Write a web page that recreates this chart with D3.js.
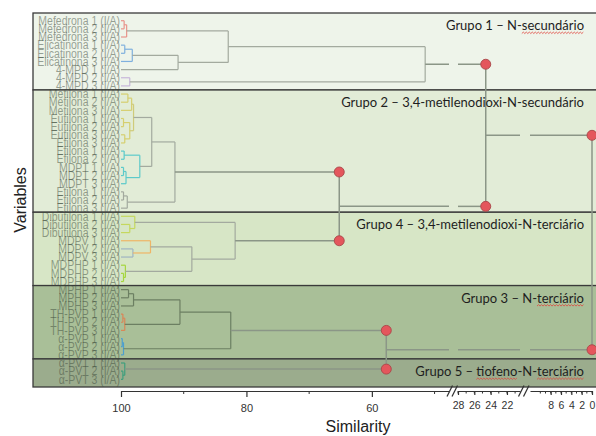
<!DOCTYPE html>
<html lang="pt">
<head>
<meta charset="UTF-8">
<title>Dendrograma</title>
<script src="https://cdnjs.cloudflare.com/ajax/libs/d3/7.8.5/d3.min.js"></script>
<style>
  body { margin: 0; background: #fff; }
  svg { display: block; }
</style>
</head>
<body>
<svg width="596" height="436"></svg>
<script>
// leaves, top to bottom
const leaves = [
  "Mefedrona 1 (I/A)", "Mefedrona 2 (I/A)", "Mefedrona 3 (I/A)",
  "Elicatinona 1 (I/A)", "Elicatinona 2 (I/A)", "Elicatinona 3 (I/A)",
  "4-MPD 1 (I/A)", "4-MPD 2 (I/A)", "4-MPD 3 (I/A)",
  "Metilona 1 (I/A)", "Metilona 2 (I/A)", "Metilona 3 (I/A)",
  "Eutilona 1 (I/A)", "Eutilona 2 (I/A)", "Eutilona 3 (I/A)",
  "Efilona 3 (I/A)", "Efilona 1 (I/A)", "Efilona 2 (I/A)",
  "MDPT 1 (I/A)", "MDPT 2 (I/A)", "MDPT 3 (I/A)",
  "Etilona 1 (I/A)", "Etilona 2 (I/A)", "Etilona 3 (I/A)",
  "Dibutilona 1 (I/A)", "Dibutilona 2 (I/A)", "Dibutilona 3 (I/A)",
  "MDPV 1 (I/A)", "MDPV 2 (I/A)", "MDPV 3 (I/A)",
  "MDPHP 1 (I/A)", "MDPHP 2 (I/A)", "MDPHP 3 (I/A)",
  "MPHP 1 (I/A)", "MPHP 2 (I/A)", "MPHP 3 (I/A)",
  "TH-PVP 1 (I/A)", "TH-PVP 2 (I/A)", "TH-PVP 3 (I/A)",
  "α-PVP 1 (I/A)", "α-PVP 2 (I/A)", "α-PVP 3 (I/A)",
  "α-PVT 1 (I/A)", "α-PVT 2 (I/A)", "α-PVT 3 (I/A)"
];

const groupTitles = [
  "Grupo 1 – N-secundário",
  "Grupo 2 – 3,4-metilenodioxi-N-secundário",
  "Grupo 4 – 3,4-metilenodioxi-N-terciário",
  "Grupo 3 – N-terciário",
  "Grupo 5 – tiofeno-N-terciário"
];
const groupSizes = [9, 15, 9, 9, 3];
const underlined = [["secundário"], [], [], ["terciário"], ["tiofeno", "terciário"]];

// [id, child a, child b, similarity]; numbers are leaf indexes
const merges = [
  ["mef12", 0, 1, 99.5], ["mef", "mef12", 2, 99.1],
  ["eli12", 3, 4, 99.4], ["eli", "eli12", 5, 98.2],
  ["g1a", "eli", 6, 90.9], ["g1b", "mef", "g1a", 82.9],
  ["mpd23", 7, 8, 98.6], ["g1", "g1b", "mpd23", 51.5],

  ["met12", 9, 10, 98.9], ["met", "met12", 11, 98.3],
  ["eut12", 12, 13, 99.6], ["eut34", 14, 15, 99.4], ["eut", "eut12", "eut34", 98.6],
  ["g2a", "met", "eut", 98.0],
  ["efi12", 16, 17, 99.5], ["mdpt12", 18, 19, 99.6], ["mdpt", "mdpt12", 20, 99.2],
  ["cy", "efi12", "mdpt", 97.0], ["g2b", "g2a", "cy", 95.1],
  ["eti12", 21, 22, 99.6], ["eti", "eti12", 23, 99.0],
  ["g2", "g2b", "eti", 91.4],

  ["dib23", 25, 26, 98.6], ["dib", 24, "dib23", 97.8],
  ["mdpv23", 28, 29, 98.1], ["mdpv", 27, "mdpv23", 95.3],
  ["mdphp23", 31, 32, 99.6], ["mdphp", 30, "mdphp23", 99.3],
  ["g4a", "mdpv", "mdphp", 88.7], ["g4", "dib", "g4a", 81.8],

  ["mphp12", 33, 34, 98.8], ["mphp", "mphp12", 35, 98.0],
  ["th12", 36, 37, 99.7], ["th", "th12", 38, 99.4],
  ["g3a", "mphp", "th", 90.6],
  ["apvp12", 39, 40, 99.8], ["apvp", "apvp12", 41, 99.6],
  ["g3", "g3a", "apvp", 82.5],

  ["apvt23", 43, 44, 99.7], ["apvt", 42, "apvt23", 99.4],

  ["g35", "g3", "apvt", 57.7],
  ["g24", "g2", "g4", 65.2],
  ["g124", "g1", "g24", 24.6],
  ["root", "g124", "g35", 0]
];

const ticksA = [100, 80, 60], minorA = [90, 70, 50];
const ticksB = [28, 26, 24, 22], minorB = [28, 27, 26, 25, 24, 23, 22, 21];
const ticksC = [8, 6, 4, 2, 0], minorC = [10, 9, 8, 7, 6, 5, 4, 3, 2, 1, 0];

// styles
const groupFill = ["#eef4ea", "#e2ecd7", "#d7e6c6", "#a9bf98", "#9bac8d"];
const bracketColor = {
  mef12: "#e8948c", mef: "#e8948c",
  eli12: "#7fb0de", eli: "#7fb0de",
  mpd23: "#c7b6da",
  met12: "#d6cf6e", met: "#d6cf6e", eut12: "#d6cf6e", eut34: "#d6cf6e", eut: "#d6cf6e", g2a: "#cfcb7a",
  efi12: "#5ccaca", mdpt12: "#5ccaca", mdpt: "#5ccaca", cy: "#5ccaca",
  dib23: "#c5d85e", dib: "#c5d85e",
  mdpv: "#efb566", mdpv23: "#9fb4c2",
  mdphp23: "#a5d63e", mdphp: "#a5d63e",
  th12: "#d98657", th: "#d98657",
  apvp12: "#4d9fcf", apvp: "#4d9fcf",
  apvt23: "#3f9f7d", apvt: "#3f9f7d"
};
const topLevel = new Set(["g35", "g24", "g124", "root"]);

const svg = d3.select("svg");
const W = 596;
const boxL = 33, boxT = 13, boxB = 387;

const y = d3.scalePoint().domain(leaves).range([20.7, 379.3]);

// broken similarity axis: three pieces
const segs = [
  d3.scaleLinear().domain([100, 47.7]).range([121, 449]),
  d3.scaleLinear().domain([28, 20.4]).range([458, 520]),
  d3.scaleLinear().domain([12, 0]).range([530, 592])
];
function sx(v) {
  for (const s of segs) {
    const [hi, lo] = s.domain();
    if (v <= hi && v >= lo) return s(v);
  }
  return segs[0](v);
}

// group boxes
let start = 0;
const groups = groupSizes.map((n, i) => {
  const first = start, last = start + n - 1;
  start += n;
  const top = i === 0 ? boxT : (y(leaves[first - 1]) + y(leaves[first])) / 2;
  const bot = i === groupSizes.length - 1 ? boxB : (y(leaves[last]) + y(leaves[last + 1])) / 2;
  return { i, first, last, top, bot, title: groupTitles[i] };
});

svg.append("g").selectAll("rect").data(groups).join("rect")
  .attr("x", boxL).attr("y", d => d.top)
  .attr("width", W - boxL + 5).attr("height", d => d.bot - d.top)
  .attr("fill", d => groupFill[d.i])
  .attr("stroke", "#3a3a3a").attr("stroke-width", 1.3);

// leaf labels, tall and narrow like the original
svg.append("g").selectAll("text").data(leaves).join("text")
  .attr("transform", d => `translate(120,${y(d) + 4.2}) scale(1,1.25)`)
  .attr("text-anchor", "end")
  .style("font-family", "'Liberation Sans', Arial, sans-serif")
  .style("font-size", "10.5px")
  .attr("fill", "#3c4a3a").attr("fill-opacity", 0.5)
  .text(d => d);

// build nodes
const nodes = new Map();
leaves.forEach((name, i) => nodes.set(i, { id: i, sim: 100, y: y(name), first: i }));
merges.forEach(([id, a, b, s]) => {
  const na = nodes.get(a), nb = nodes.get(b);
  nodes.set(id, { id, sim: s, y: (na.y + nb.y) / 2, kids: [na, nb], first: Math.min(na.first, nb.first) });
});

function lineColor(p) {
  if (bracketColor[p.id]) return bracketColor[p.id];
  if (topLevel.has(p.id)) return "#8b9687";
  return p.first >= 33 ? "#6c7f62" : "#a3aa9f";
}

// horizontal line cut at the axis breaks
function hPieces(v0, v1) {
  const out = [];
  segs.forEach(s => {
    const [hi, lo] = s.domain();
    const a = Math.min(v0, hi), b = Math.max(v1, lo);
    if (a > b) out.push([s(a), s(b)]);
  });
  return out;
}

const links = svg.append("g").attr("fill", "none");
const dots = [];
merges.forEach(([id]) => {
  const p = nodes.get(id);
  const px = sx(p.sim), col = lineColor(p);
  const w = topLevel.has(id) ? 1.5 : 1.2;
  p.kids.forEach(c => {
    hPieces(c.sim, p.sim).forEach(([x0, x1]) => {
      links.append("line").attr("x1", x0).attr("x2", x1).attr("y1", c.y).attr("y2", c.y)
        .attr("stroke", col).attr("stroke-width", w);
    });
    if (topLevel.has(id)) dots.push([px, c.y]);
  });
  links.append("line").attr("x1", px).attr("x2", px)
    .attr("y1", d3.min(p.kids, c => c.y)).attr("y2", d3.max(p.kids, c => c.y))
    .attr("stroke", col).attr("stroke-width", w);
});

svg.append("g").selectAll("circle").data(dots).join("circle")
  .attr("cx", d => d[0]).attr("cy", d => d[1]).attr("r", 5)
  .attr("fill", "#e4565c").attr("stroke", "#a8474a").attr("stroke-width", 0.9);

// group titles
const titles = svg.append("g")
  .style("font-family", "Lato, 'Open Sans', sans-serif")
  .style("font-size", "13px").attr("fill", "#1e1e1e");
groups.forEach(g => {
  const t = titles.append("text")
    .attr("x", 584).attr("y", g.top + 17).attr("text-anchor", "end").text(g.title);
  const node = t.node();
  underlined[g.i].forEach(word => {
    const k = g.title.indexOf(word);
    const x0 = node.getStartPositionOfChar(k).x;
    const x1 = node.getEndPositionOfChar(k + word.length - 1).x;
    const yb = g.top + 19.8;
    const pts = d3.range(x0, x1, 1.5).map((x, j) => [x, yb + (j % 2 ? -0.7 : 0.7)]);
    titles.append("path").attr("d", d3.line()(pts))
      .attr("fill", "none").attr("stroke", "#e0443c").attr("stroke-width", 0.8);
  });
});

// axis
const axY = 391;
const axes = svg.append("g").attr("transform", `translate(0,${axY})`);
[[segs[0], ticksA, minorA, 6, 3, "11px"], [segs[1], ticksB, minorB, 4, 2.5, "10.5px"], [segs[2], ticksC, minorC, 4, 2.5, "10.5px"]]
  .forEach(([s, major, minor, big, small, fs]) => {
    const g = axes.append("g")
      .call(d3.axisBottom(s).tickValues(major).tickSize(big).tickSizeOuter(0).tickPadding(7).tickFormat(d3.format("d")));
    g.selectAll("line.minor").data(minor).join("line").attr("class", "minor")
      .attr("x1", s).attr("x2", s).attr("y1", 0).attr("y2", small)
      .attr("stroke", "#333");
    g.select(".domain").attr("stroke", "#333").attr("stroke-width", 1.2);
    g.selectAll(".tick line").attr("stroke", "#333").attr("stroke-width", 1.2);
    g.selectAll("text").style("font-family", "'Liberation Sans', Arial, sans-serif")
      .style("font-size", fs).attr("fill", "#333");
  });

// break marks
[449.5, 521].forEach(bx => {
  [0, 5].forEach(dx => {
    axes.append("line").attr("x1", bx + dx - 2.5).attr("x2", bx + dx + 3)
      .attr("y1", 5.5).attr("y2", -5.5).attr("stroke", "#333").attr("stroke-width", 1.2);
  });
});

svg.append("text").attr("x", 358).attr("y", 432).attr("text-anchor", "middle")
  .style("font-family", "'Liberation Sans', Arial, sans-serif").style("font-size", "16px")
  .attr("fill", "#222").text("Similarity");

svg.append("text").attr("transform", "translate(26,200) rotate(-90)").attr("text-anchor", "middle")
  .style("font-family", "'Liberation Sans', Arial, sans-serif").style("font-size", "16px")
  .attr("fill", "#222").text("Variables");
</script>
</body>
</html>
